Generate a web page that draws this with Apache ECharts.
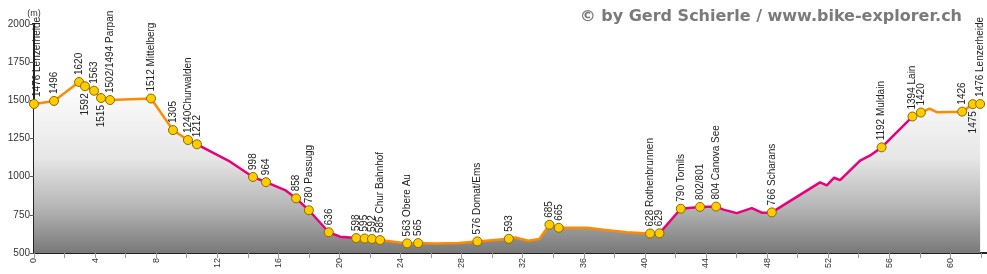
<!DOCTYPE html>
<html>
<head>
<meta charset="utf-8">
<script src="https://cdn.jsdelivr.net/npm/echarts@6/dist/echarts.min.js"></script>
<style>
  html, body { margin: 0; padding: 0; background: #fff; }
  #chart-container { width: 987px; height: 274px; }
</style>
</head>
<body>
<div id="chart-container"></div>
<script>
// profile line (km, m)
const profileKm = [0, 1.31, 2.95, 3.34, 3.93, 4.39, 4.98, 7.66, 9.1, 10.08, 10.67, 12.84, 14.34, 15.19, 16.44, 17.16, 18.0, 19.3, 20.04, 21.1, 21.65, 22.13, 22.66, 24.43, 25.15, 26.3, 27.8, 29.03, 31.09, 31.5, 32.37, 33.09, 33.75, 34.36, 36.2, 37.28, 38.81, 40.34, 40.95, 42.35, 43.61, 44.66, 45.14, 46.02, 47.0, 47.65, 48.31, 51.47, 51.91, 52.39, 52.78, 54.09, 54.75, 55.5, 57.52, 58.07, 58.63, 59.11, 60.77, 61.47, 61.95];
const profileElev = [1476, 1496, 1620, 1592, 1563, 1515, 1502, 1512, 1305, 1240, 1212, 1098, 998, 964, 912, 858, 780, 636, 607, 598, 595, 592, 585, 563, 565, 562, 565, 576, 593, 602, 580, 592, 685, 665, 665, 652, 636, 628, 629, 790, 802, 804, 784, 761, 794, 764, 766, 963, 943, 993, 977, 1105, 1139, 1192, 1394, 1420, 1446, 1422, 1426, 1475, 1476];

// labelled stops
const stopKm = [0, 1.31, 2.95, 3.34, 3.93, 4.39, 4.98, 7.66, 9.1, 10.08, 10.67, 14.34, 15.19, 17.16, 18.0, 19.3, 21.1, 21.65, 22.13, 22.66, 24.43, 25.15, 29.03, 31.09, 33.75, 34.36, 40.34, 40.95, 42.35, 43.61, 44.66, 48.31, 55.5, 57.52, 58.07, 60.77, 61.47, 61.95];
const stopElev = [1476, 1496, 1620, 1592, 1563, 1515, 1502, 1512, 1305, 1240, 1212, 998, 964, 858, 780, 636, 598, 595, 592, 585, 563, 565, 576, 593, 685, 665, 628, 629, 790, 802, 804, 766, 1192, 1394, 1420, 1426, 1475, 1476];
const stopText = ['1476 Lenzerheide', '1496', '1620', '1592', '1563', '1515', '1502/1494 Parpan', '1512 Mittelberg', '1305', '1240Churwalden', '1212', '998', '964', '858', '780 Passugg', '636', '598', '595', '592', '585 Chur Bahnhof', '563 Obere Au', '565', '576 Domat/Ems', '593', '685', '665', '628 Rothenbrunnen', '629', '790 Tomils', '802/801', '804 Canova See', '766 Scharans', '1192 Muldain', '1394 Lain', '1420', '1426', '1475', '1476 Lenzerheide'];
// indexes of stops whose label hangs below the marker
const labelsBelow = [3, 5, 36];

// steep sections drawn in magenta (km from / to)
const steepFrom = [10.08, 40.95];
const steepTo = [22.66, 57.52];

const ORANGE = '#ff8a00';
const MAGENTA = '#e8007d';

const lineData = profileKm.map((k, i) => [k, profileElev[i]]);

const stopData = stopKm.map((k, i) => {
  const below = labelsBelow.includes(i);
  const item = {
    value: [k, stopElev[i]],
    name: stopText[i],
    label: below
      ? { position: 'bottom', align: 'right' }
      : { position: 'top', align: 'left' }
  };
  if (i === 0) item.label.position = [8.5, -2]; // keep first label clear of the axis
  return item;
});

// colour pieces along the distance axis
const pieces = [];
let last = 0;
steepFrom.forEach((f, i) => {
  pieces.push({ gte: last, lt: f, color: ORANGE });
  pieces.push({ gte: f, lt: steepTo[i], color: MAGENTA });
  last = steepTo[i];
});
pieces.push({ gte: last, lte: 100, color: ORANGE });

const myChart = echarts.init(document.getElementById('chart-container'));
const option = {
  animation: false,
  backgroundColor: '#fff',
  grid: { left: 34, right: 0, top: 24, bottom: 21 },
  graphic: [{
    type: 'text',
    right: 25,
    top: 9,
    style: {
      text: '© by Gerd Schierle / www.bike-explorer.ch',
      font: 'bold 16px "DejaVu Sans"',
      fill: '#7a7a7a'
    }
  }],
  visualMap: {
    show: false,
    type: 'piecewise',
    dimension: 0,
    seriesIndex: 0,
    pieces: pieces
  },
  xAxis: {
    type: 'value',
    min: 0,
    max: 62.4,
    interval: 2,
    axisLine: { lineStyle: { color: '#222', width: 2 } },
    axisTick: { length: 5, lineStyle: { color: '#999' } },
    splitLine: { show: false },
    axisLabel: {
      rotate: 90,
      margin: 5,
      fontSize: 9,
      color: '#333',
      fontFamily: 'Liberation Sans',
      showMaxLabel: false,
      formatter: v => (v % 4 === 0 ? String(v) : '')
    }
  },
  yAxis: {
    type: 'value',
    min: 500,
    max: 2000,
    interval: 250,
    name: '(m)',
    nameLocation: 'end',
    nameGap: 6,
    nameTextStyle: { fontSize: 9, color: '#333', fontFamily: 'Liberation Sans' },
    axisLine: { show: true, lineStyle: { color: '#222', width: 2 } },
    axisTick: { show: true, length: 4, lineStyle: { color: '#555' } },
    splitLine: { show: false },
    axisLabel: {
      fontSize: 10,
      color: '#333',
      margin: 4,
      fontFamily: 'Liberation Sans',
      formatter: v => String(v)
    }
  },
  series: [{
    type: 'line',
    data: lineData,
    symbol: 'none',
    lineStyle: { width: 2.5 },
    areaStyle: {
      origin: 'start',
      opacity: 1,
      color: new echarts.graphic.LinearGradient(0, 0, 0, 1, [
        { offset: 0, color: '#ffffff' },
        { offset: 0.45, color: '#e6e6e6' },
        { offset: 0.75, color: '#b2b2b2' },
        { offset: 1, color: '#787878' }
      ])
    },
    z: 2
  }, {
    type: 'scatter',
    data: stopData,
    symbol: 'circle',
    symbolSize: 9,
    itemStyle: { color: '#ffcc00', borderColor: '#8a6a00', borderWidth: 1, opacity: 1 },
    label: {
      show: true,
      rotate: 90,
      distance: 2,
      verticalAlign: 'middle',
      fontSize: 10,
      fontFamily: 'Liberation Sans',
      color: '#222',
      formatter: p => p.name
    },
    z: 3
  }]
};
myChart.setOption(option);
</script>
</body>
</html>
